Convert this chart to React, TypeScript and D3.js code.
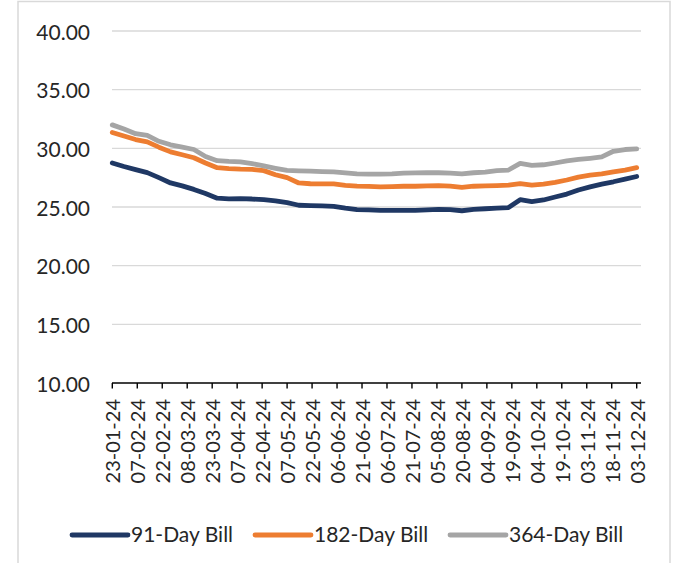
import * as d3 from 'd3';

// weekly auction dates (dd-mm-yy)
const dates = [
  '23-01-24', '30-01-24', '06-02-24', '13-02-24', '20-02-24', '27-02-24',
  '05-03-24', '12-03-24', '19-03-24', '26-03-24', '02-04-24', '09-04-24',
  '16-04-24', '23-04-24', '30-04-24', '07-05-24', '14-05-24', '21-05-24',
  '28-05-24', '04-06-24', '11-06-24', '18-06-24', '25-06-24', '02-07-24',
  '09-07-24', '16-07-24', '23-07-24', '30-07-24', '06-08-24', '13-08-24',
  '20-08-24', '27-08-24', '03-09-24', '10-09-24', '17-09-24', '24-09-24',
  '01-10-24', '08-10-24', '15-10-24', '22-10-24', '29-10-24', '05-11-24',
  '12-11-24', '19-11-24', '26-11-24', '03-12-24',
];

const bill91 = [
  28.75, 28.45, 28.18, 27.93, 27.5, 27.05, 26.8, 26.5, 26.15, 25.75,
  25.7, 25.71, 25.68, 25.62, 25.53, 25.38, 25.15, 25.12, 25.1, 25.06,
  24.9, 24.78, 24.75, 24.72, 24.72, 24.71, 24.72, 24.75, 24.8, 24.78,
  24.68, 24.8, 24.85, 24.9, 24.95, 25.62, 25.45, 25.6, 25.85, 26.1,
  26.45, 26.72, 26.95, 27.15, 27.38, 27.6,
];

const bill182 = [
  31.35, 31.05, 30.75, 30.55, 30.1, 29.7, 29.45, 29.2, 28.75, 28.35,
  28.27, 28.22, 28.2, 28.1, 27.75, 27.5, 27.05, 26.98, 26.97, 26.97,
  26.85, 26.78, 26.75, 26.72, 26.74, 26.77, 26.77, 26.8, 26.82, 26.78,
  26.68, 26.77, 26.8, 26.82, 26.86, 27.0, 26.86, 26.95, 27.1, 27.3,
  27.55, 27.72, 27.82, 28.0, 28.15, 28.35,
];

const bill364 = [
  32.0, 31.65, 31.25, 31.1, 30.6, 30.3, 30.1, 29.9, 29.3, 28.95,
  28.88, 28.85, 28.7, 28.5, 28.3, 28.12, 28.08, 28.05, 28.02, 28.0,
  27.9, 27.82, 27.8, 27.8, 27.82, 27.88, 27.9, 27.92, 27.92, 27.88,
  27.82, 27.92, 27.98, 28.1, 28.15, 28.72, 28.55, 28.6, 28.75, 28.93,
  29.05, 29.15, 29.27, 29.75, 29.9, 29.95,
];

const tickLabels = [
  '23-01-24', '07-02-24', '22-02-24', '08-03-24', '23-03-24', '07-04-24',
  '22-04-24', '07-05-24', '22-05-24', '06-06-24', '21-06-24', '06-07-24',
  '21-07-24', '05-08-24', '20-08-24', '04-09-24', '19-09-24', '04-10-24',
  '19-10-24', '03-11-24', '18-11-24', '03-12-24',
];

const yTicks = [10, 15, 20, 25, 30, 35, 40];

const seriesNames = ['91-Day Bill', '182-Day Bill', '364-Day Bill'];
const seriesValues = [bill91, bill182, bill364];
const colors = ['#1f3864', '#ed7d31', '#a5a5a5'];

const W = 673;
const H = 563;
const FONT = 'Lato, "Open Sans", sans-serif';

const parse = d3.timeParse('%d-%m-%y');

export default function App() {
  const parsed = dates.map((d) => parse(d) as Date);
  const x = d3
    .scaleTime()
    .domain([parsed[0], parsed[parsed.length - 1]])
    .range([112.3, 636.7]);
  const y = d3.scaleLinear().domain([10, 40]).range([383, 31]);
  const gridRight = 641;

  const line = d3
    .line<number>()
    .x((_, i) => x(parsed[i]))
    .y((v) => y(v));

  const legendX = [72, 255, 450];

  return (
    <svg
      width={W}
      height={H}
      style={{ position: 'absolute', left: 0, top: 0, background: '#fff' }}
      fontFamily={FONT}
    >
      <rect x={18} y={1.5} width={652} height={H + 10} fill="#fff" stroke="#d9d9d9" strokeWidth={1.5} />

      {yTicks.slice(1).map((t) => (
        <line key={t} x1={112} x2={gridRight} y1={y(t)} y2={y(t)} stroke="#d9d9d9" strokeWidth={1.3} />
      ))}

      {yTicks.map((t) => (
        <text
          key={t}
          x={90}
          y={y(t)}
          textAnchor="end"
          dominantBaseline="central"
          fontSize={21}
          fill="#262626"
        >
          {t.toFixed(2)}
        </text>
      ))}

      {/* x axis */}
      <line x1={112} x2={gridRight} y1={y(10)} y2={y(10)} stroke="#000" strokeWidth={1.4} />
      {tickLabels.map((lab) => {
        const tx = x(parse(lab) as Date);
        return (
          <g key={lab}>
            <line x1={tx} x2={tx} y1={y(10)} y2={y(10) + 5.5} stroke="#000" strokeWidth={1.4} />
            <text
              transform={`translate(${tx},${y(10) + 16}) rotate(-90)`}
              textAnchor="end"
              dominantBaseline="central"
              fontSize={20}
              fill="#262626"
            >
              {lab}
            </text>
          </g>
        );
      })}

      {seriesValues.map((vals, i) => (
        <path
          key={seriesNames[i]}
          d={line(vals) || ''}
          fill="none"
          stroke={colors[i]}
          strokeWidth={4.8}
          strokeLinejoin="round"
          strokeLinecap="round"
        />
      ))}

      {/* legend */}
      {seriesNames.map((name, i) => (
        <g key={name}>
          <line
            x1={legendX[i]}
            x2={legendX[i] + 56}
            y1={535}
            y2={535}
            stroke={colors[i]}
            strokeWidth={4.8}
            strokeLinecap="round"
          />
          <text x={legendX[i] + 59} y={542} fontSize={21} fill="#262626">
            {name}
          </text>
        </g>
      ))}
    </svg>
  );
}
